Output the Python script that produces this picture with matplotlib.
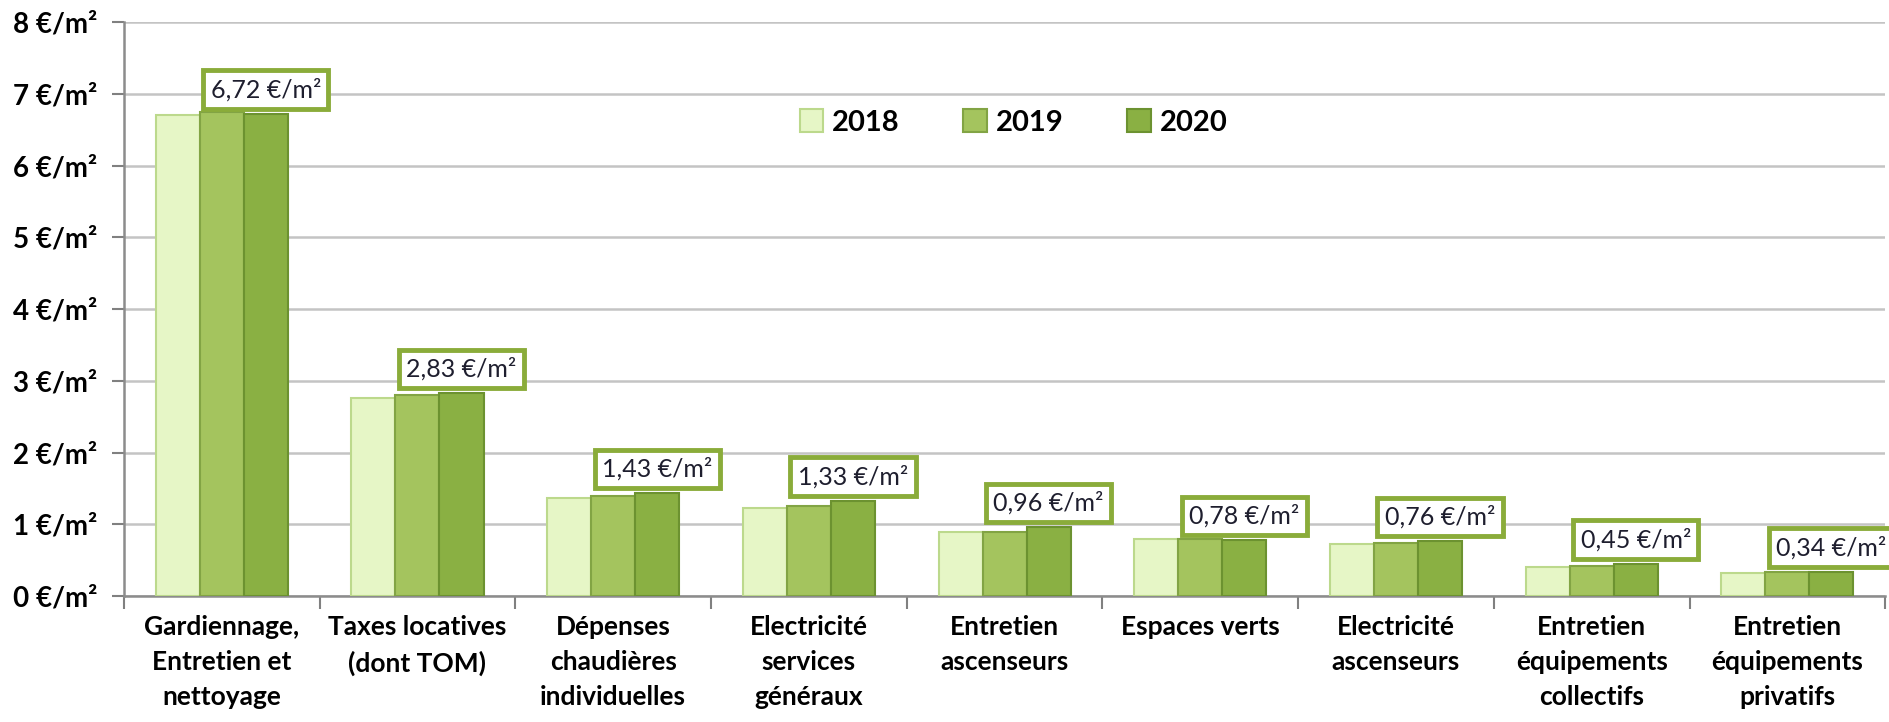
import matplotlib
matplotlib.use("Agg")
import matplotlib.pyplot as plt
import numpy as np

plt.rcParams['font.family'] = ['Lato', 'DejaVu Sans']

# Data
categories = [
    "Gardiennage,\nEntretien et\nnettoyage",
    "Taxes locatives\n(dont TOM)",
    "Dépenses\nchaudières\nindividuelles",
    "Electricité\nservices\ngénéraux",
    "Entretien\nascenseurs",
    "Espaces verts",
    "Electricité\nascenseurs",
    "Entretien\néquipements\ncollectifs",
    "Entretien\néquipements\nprivatifs",
]
years = ["2018", "2019", "2020"]
values_2018 = [6.70, 2.76, 1.36, 1.22, 0.89, 0.80, 0.72, 0.40, 0.32]
values_2019 = [6.74, 2.80, 1.39, 1.26, 0.89, 0.79, 0.74, 0.42, 0.33]
values_2020 = [6.72, 2.83, 1.43, 1.33, 0.96, 0.78, 0.76, 0.45, 0.34]
labels_2020 = ["6,72 €/m²", "2,83 €/m²", "1,43 €/m²", "1,33 €/m²", "0,96 €/m²",
               "0,78 €/m²", "0,76 €/m²", "0,45 €/m²", "0,34 €/m²"]
y_ticks = [0, 1, 2, 3, 4, 5, 6, 7, 8]

# Colors per year
face_colors = ["#e6f6c6", "#a4c45e", "#8ab043"]
edge_colors = ["#bcd98c", "#82a444", "#6c9230"]
box_edge = "#8aac3a"

fig = plt.figure(figsize=(18.89, 7.22), dpi=100)
ax = fig.add_axes([0.0656, 0.1745, 0.9324, 0.795])

x = np.arange(len(categories))
width = 0.225
series = [values_2018, values_2019, values_2020]
for i, vals in enumerate(series):
    ax.bar(x + (i - 1) * width, vals, width=width, color=face_colors[i],
           edgecolor=edge_colors[i], linewidth=1.5, label=years[i], zorder=3)

# Value labels on 2020 bars
for xi, v, lab in zip(x + width, values_2020, labels_2020):
    ax.annotate(lab, (xi, v), xytext=(0, 9), textcoords="offset points",
                ha="center", va="bottom", fontsize=18, color="#1e1e2e", zorder=5,
                bbox=dict(boxstyle="square,pad=0.3", facecolor="white",
                          edgecolor=box_edge, linewidth=3.5))

# Axes
ax.set_xlim(-0.5, len(categories) - 0.5)
ax.set_ylim(0, 8)
ax.set_yticks(y_ticks)
ax.set_yticklabels([f"{t} €/m²" for t in y_ticks], fontsize=20, fontweight="bold")
ax.set_xticks(x)
ax.set_xticklabels(categories, fontsize=19, fontweight="bold", linespacing=1.55)
ax.tick_params(axis="x", length=0, pad=14)
ax.set_xticks(np.arange(len(categories) + 1) - 0.5, minor=True)
ax.tick_params(axis="x", which="minor", length=9, width=1.5, color="#808080")
ax.tick_params(axis="y", length=9, width=1.5, color="#808080", pad=10)

ax.grid(axis="y", color="#c4c4c4", linewidth=1.8, zorder=0)
ax.set_axisbelow(True)
for side in ["top", "right"]:
    ax.spines[side].set_visible(False)
for side in ["left", "bottom"]:
    ax.spines[side].set_color("#8c8c8c")
    ax.spines[side].set_linewidth(1.8)

ax.legend(loc="center", bbox_to_anchor=(0.505, 0.825), ncol=3, frameon=False,
          prop={"size": 21, "weight": "bold"}, handlelength=0.8, handleheight=0.8,
          columnspacing=2.2, handletextpad=0.3)

plt.savefig("out.png", dpi=100)
plt.close()
